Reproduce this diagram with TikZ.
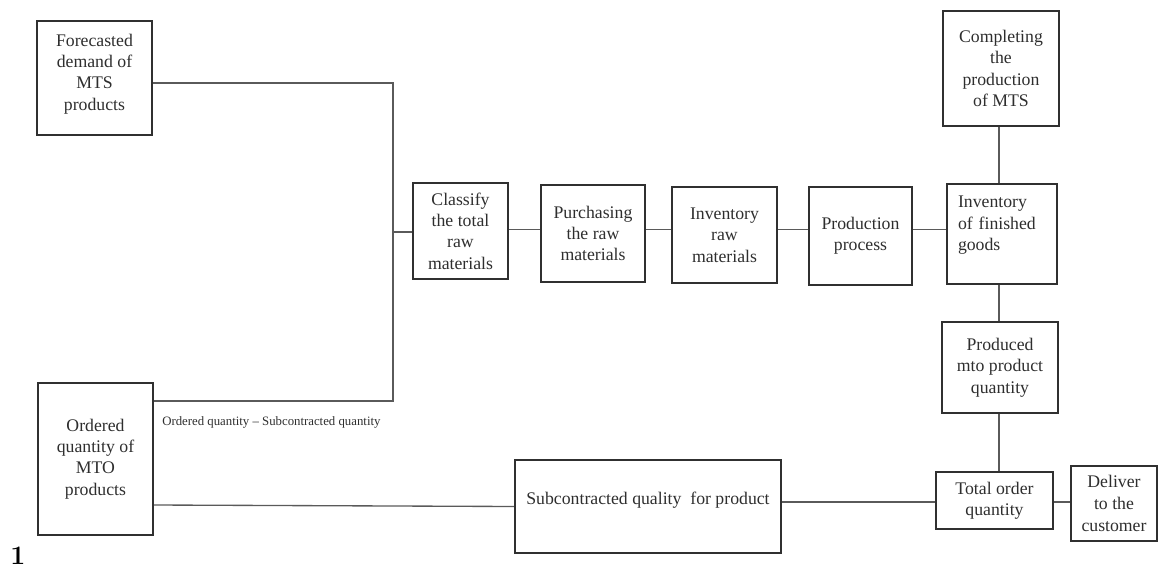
\documentclass[tikz,border=0pt]{standalone}
\usepackage{fontspec}
\newfontfamily\tnr[Ligatures=TeX]{Liberation Serif}
\definecolor{boxc}{HTML}{303030}
\definecolor{linec}{HTML}{5A5A5A}
\definecolor{txtc}{HTML}{2E2E2E}
\begin{document}
\begin{tikzpicture}[x=0.75pt,y=-0.75pt,
  box/.style={draw=boxc, line width=1.6pt, align=center, inner sep=0pt,
    text=txtc, font=\tnr\fontsize{13.3}{16}\selectfont},
  sz/.style 2 args={minimum width=#1*0.75pt, minimum height=#2*0.75pt},
  conn/.style={draw=linec, line width=1pt},
  lbl/.style={text=txtc, font=\tnr\fontsize{9.6}{11}\selectfont, inner sep=0pt}]
\useasboundingbox (0,0) rectangle (1160,571);

% boxes
\node[box, sz={115}{114}] (fore) at (94.5,78)
  {\raisebox{3pt}[\height][\depth]{\begin{tabular}{@{}c@{}}Forecasted\\demand of\\MTS\\products\end{tabular}}};
\node[box, sz={115}{152}] (order) at (95.5,459)
  {Ordered\\quantity of\\MTO\\products};
\node[box, sz={95}{96}] (classify) at (460.5,231)
  {Classify\\the total\\raw\\materials};
\node[box, sz={104}{97}] (purch) at (593,233.5)
  {Purchasing\\the raw\\materials};
\node[box, sz={105}{96}] (invraw) at (724.5,235)
  {Inventory\\raw\\materials};
\node[box, sz={103}{98}] (prod) at (860.5,236)
  {Production\\process};
\node[box, sz={116}{115}] (complete) at (1001,68.5)
  {Completing\\the\\production\\of MTS};
\node[box, sz={110}{100}, align=left, text width=88*0.75pt] (invfin) at (1002,234)
  {Inventory\\of finished\\goods\\\mbox{}};
\node[box, sz={116}{91}] (produced) at (1000,367.5)
  {Produced\\mto product\\quantity};
\node[box, sz={117}{57}] (total) at (994.5,500.5)
  {Total order\\quantity};
\node[box, sz={86}{75}, font=\tnr\fontsize{13.3}{16.5}\selectfont] (deliver) at (1114,503.5)
  {Deliver\\to the\\customer};
\node[box, sz={266}{93}] (sub) at (648,506.5)
  {\raisebox{4.5pt}[\height][\depth]{Subcontracted quality\ \ for product}};

% label and figure number
\node[lbl, anchor=west] (diff) at (162,422) {Ordered quantity -- Subcontracted quantity};
\node[inner sep=0pt, anchor=base, font=\fontsize{20}{24}\selectfont\bfseries] (num) at (18,564) {1};

% junction coordinates
\coordinate (j1) at (393,83);
\coordinate (j2) at (393,401);
\coordinate (jc) at (393,232);
\coordinate (row) at (0,229.5);
\coordinate (col) at (999,0);
\coordinate (low) at (0,502);

% connectors
\draw[conn] (fore.east |- j1) -- (j1) -- (j2) -- (order.east |- j2);
\draw[conn] (jc) -- (classify.west |- jc);
\draw[conn] (classify.east |- row) -- (purch.west |- row);
\draw[conn] (purch.east |- row) -- (invraw.west |- row);
\draw[conn] (invraw.east |- row) -- (prod.west |- row);
\draw[conn] (prod.east |- row) -- (invfin.west |- row);
\draw[conn] (complete.south -| col) -- (invfin.north -| col);
\draw[conn] (invfin.south -| col) -- (produced.north -| col);
\draw[conn] (produced.south -| col) -- (total.north -| col);
\draw[conn] ([yshift=-46*0.75pt]order.east) -- (sub.west);
\draw[conn] (sub.east |- low) -- (total.west |- low);
\draw[conn] (total.east |- low) -- (deliver.west |- low);
\end{tikzpicture}
\end{document}
